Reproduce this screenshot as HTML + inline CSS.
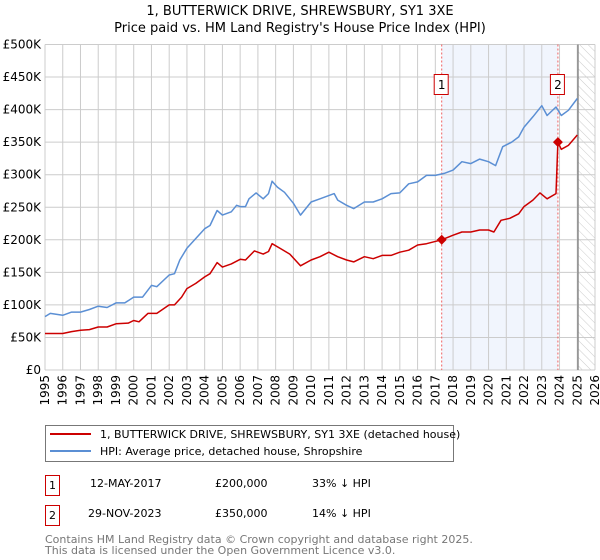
<!DOCTYPE html>
<html><head><meta charset="utf-8"><style>
body{margin:0;background:#fff;}
svg{display:block;font-family:"DejaVu Sans","Liberation Sans",sans-serif;}
</style></head><body>
<svg id="c" width="600" height="560" viewBox="0 0 600 560">
<defs><pattern id="hatch" width="6" height="6" patternUnits="userSpaceOnUse" patternTransform="rotate(-45)"><line x1="0" y1="0" x2="0" y2="6" stroke="#ccc" stroke-width="1"/></pattern></defs>
<text x="300" y="15" text-anchor="middle" font-size="13">1, BUTTERWICK DRIVE, SHREWSBURY, SY1 3XE</text>
<text x="300" y="32" text-anchor="middle" font-size="13">Price paid vs. HM Land Registry's House Price Index (HPI)</text>
<g id="plot"></g>
<g>
<rect x="45.5" y="425.5" width="408" height="36" fill="#fff" stroke="#777"/>
<line x1="50" y1="434" x2="91" y2="434" stroke="#cc0000" stroke-width="2"/>
<text x="100" y="438" font-size="11">1, BUTTERWICK DRIVE, SHREWSBURY, SY1 3XE (detached house)</text>
<line x1="50" y1="451" x2="91" y2="451" stroke="#5b8fd4" stroke-width="2"/>
<text x="100" y="455" font-size="11">HPI: Average price, detached house, Shropshire</text>
</g>
<g font-size="11">
<rect x="45.5" y="475.5" width="14" height="20" fill="#fff" stroke="#cc0000"/>
<text x="52.5" y="489" text-anchor="middle">1</text>
<text x="90" y="487">12-MAY-2017</text><text x="215" y="487">£200,000</text><text x="312" y="487">33% ↓ HPI</text>
<rect x="45.5" y="505.5" width="14" height="20" fill="#fff" stroke="#cc0000"/>
<text x="52.5" y="519" text-anchor="middle">2</text>
<text x="88" y="517">29-NOV-2023</text><text x="215" y="517">£350,000</text><text x="312" y="517">14% ↓ HPI</text>
</g>
<text x="45" y="543" font-size="11" fill="#777">Contains HM Land Registry data © Crown copyright and database right 2025.</text>
<text x="45" y="554" font-size="11" fill="#777">This data is licensed under the Open Government Licence v3.0.</text>
</svg>
<script>
const hpiYears=[1995,1995.3,1996,1996.5,1997,1997.5,1998,1998.5,1999,1999.5,2000,2000.5,2001,2001.3,2002,2002.3,2002.6,2003,2003.5,2004,2004.3,2004.7,2005,2005.5,2005.8,2006,2006.3,2006.5,2006.9,2007.3,2007.6,2007.8,2008.1,2008.5,2009,2009.4,2010,2010.5,2011.3,2011.5,2012,2012.4,2013,2013.5,2014,2014.5,2015,2015.5,2016,2016.5,2017,2017.5,2018,2018.5,2019,2019.5,2020,2020.4,2020.8,2021.3,2021.7,2022,2022.5,2023,2023.3,2023.8,2024.1,2024.5,2025];
const hpiValues=[82,87,84,89,89,93,98,96,103,103,112,112,130,128,146,148,169,187,202,217,222,245,238,243,253,251,251,263,272,263,271,290,281,273,256,238,258,263,271,261,253,248,258,258,263,271,272,286,289,299,299,302,307,320,317,324,320,314,343,350,358,373,389,406,391,404,391,399,417];
const priceYears=[1995,1996,1996.5,1997,1997.5,1998,1998.5,1999,1999.7,2000,2000.3,2000.8,2001.3,2002,2002.3,2002.7,2003,2003.5,2004,2004.3,2004.7,2005,2005.5,2006,2006.3,2006.8,2007.3,2007.6,2007.8,2008.3,2008.8,2009.4,2010,2010.5,2011,2011.5,2012,2012.4,2013,2013.5,2014,2014.5,2015,2015.5,2016,2016.5,2017.36,2018,2018.5,2019,2019.5,2020,2020.3,2020.7,2021.2,2021.7,2022,2022.5,2022.9,2023.3,2023.8,2023.91,2024.1,2024.5,2025];
const priceValues=[56,56,59,61,62,66,66,71,72,76,74,87,87,100,100,112,125,133,143,148,165,158,163,170,169,183,178,182,194,186,178,160,169,174,181,174,169,166,174,171,176,176,181,184,192,194,200,207,212,212,215,215,212,230,233,240,251,261,272,263,271,350,339,345,361];
const saleYears=[2017.36,2023.91];
const saleValues=[200,350];
const saleLabels=['1','2'];
const yTicks=[0,50,100,150,200,250,300,350,400,450,500];
const yTickLabels=['£0','£50K','£100K','£150K','£200K','£250K','£300K','£350K','£400K','£450K','£500K'];
const xTicks=[1995,1996,1997,1998,1999,2000,2001,2002,2003,2004,2005,2006,2007,2008,2009,2010,2011,2012,2013,2014,2015,2016,2017,2018,2019,2020,2021,2022,2023,2024,2025,2026];

const L=45,R=595,T=44.5,B=370;
const X=y=>L+(y-1995)/(2026-1995)*(R-L);
const Y=v=>B-v/500*(B-T);
const NS='http://www.w3.org/2000/svg';
const g=document.getElementById('plot');
function mk(t,a,p){const e=document.createElementNS(NS,t);for(const k in a)e.setAttribute(k,a[k]);(p||g).appendChild(e);return e;}
// shaded region & hatch
let e=mk('rect',{x:X(saleYears[0]),y:T,width:X(saleYears[1])-X(saleYears[0]),height:B-T,fill:'#eef3fc',opacity:0.8});


e=mk('rect',{x:X(2025.04),y:T,width:R-X(2025.04),height:B-T,fill:'url(#hatch)'});


// grid
yTicks.forEach((v,i)=>{
 e=mk('line',{x1:L,x2:R,y1:Y(v),y2:Y(v),stroke:'#ccc'});
 
 
 e=mk('text',{x:L-4,y:Y(v)+4,'text-anchor':'end','font-size':12});
 e.textContent=yTickLabels[i];
 
 
});
xTicks.forEach(t=>{
 e=mk('line',{x1:X(t),x2:X(t),y1:T,y2:B,stroke:'#ccc'});
 
 
 e=mk('text',{x:0,y:0,'text-anchor':'end','font-size':12,transform:`translate(${X(t)+4},${B+5}) rotate(-90)`});
 e.textContent=t;
 
 
});
e=mk('line',{x1:X(2025.04),x2:X(2025.04),y1:T,y2:B,stroke:'#888','stroke-width':1.5});


// sale vlines
saleYears.forEach(s=>{
 e=mk('line',{x1:X(s),x2:X(s),y1:T,y2:B,stroke:'#f06060','stroke-dasharray':'2,2'});
 
 
});
function path(xs,vs){return xs.map((x,i)=>(i?'L':'M')+X(x).toFixed(1)+','+Y(vs[i]).toFixed(1)).join('');}
e=mk('path',{d:path(hpiYears,hpiValues),fill:'none',stroke:'#5b8fd4','stroke-width':1.5,'stroke-linejoin':'round'});


e=mk('path',{d:path(priceYears,priceValues),fill:'none',stroke:'#cc0000','stroke-width':1.5,'stroke-linejoin':'round'});


saleYears.forEach((s,i)=>{
 const cx=X(s),cy=Y(saleValues[i]);
 e=mk('path',{d:`M${cx},${cy-5}L${cx+5},${cy}L${cx},${cy+5}L${cx-5},${cy}Z`,fill:'#cc0000'});
 
 
 e=mk('rect',{x:cx-7.5,y:74.5,width:14,height:20,fill:'#fff',stroke:'#cc0000'});
 
 
 e=mk('text',{x:cx,y:89,'text-anchor':'middle','font-size':12});
 e.textContent=saleLabels[i];
 
 
});
</script>
</body></html>
